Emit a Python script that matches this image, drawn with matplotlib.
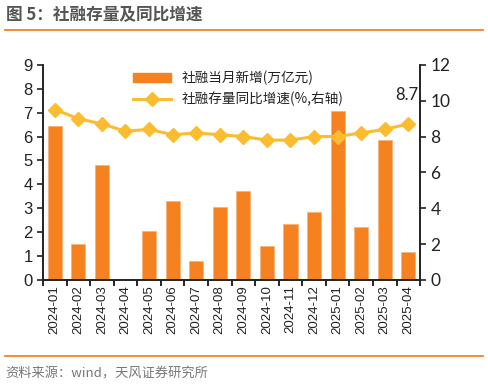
import numpy as np
import matplotlib.pyplot as plt
from matplotlib.lines import Line2D

plt.rcParams['font.family'] = ['Noto Sans CJK SC', 'DejaVu Sans']

months = ["2024-01", "2024-02", "2024-03", "2024-04", "2024-05", "2024-06",
          "2024-07", "2024-08", "2024-09", "2024-10", "2024-11", "2024-12",
          "2025-01", "2025-02", "2025-03", "2025-04"]
new_tsf = [6.45, 1.49, 4.81, 0.0, 2.04, 3.30, 0.78, 3.04, 3.74, 1.41, 2.32,
           2.86, 7.06, 2.23, 5.87, 1.16]
tsf_yoy = [9.5, 9.0, 8.7, 8.3, 8.4, 8.1, 8.2, 8.1, 8.0, 7.8, 7.8, 8.0,
           8.0, 8.2, 8.4, 8.7]

bar_c = "#F5821F"
line_c = "#FBBD2F"

fig = plt.figure(figsize=(4.88, 3.86), dpi=100)
ax = fig.add_axes([0.088, 0.275, 0.773, 0.557])
ax2 = ax.twinx()

x = np.arange(len(months))
ax.bar(x, new_tsf, width=0.6, color=bar_c, edgecolor="#F8B27A", linewidth=0.6,
       label="社融当月新增(万亿元)", zorder=2)
ax2.plot(x, tsf_yoy, color=line_c, lw=2.2, marker="D", ms=7, zorder=3)
ax2.annotate(f"{tsf_yoy[-1]:.1f}", (x[-1], tsf_yoy[-1]), xytext=(-1, 15),
             textcoords="offset points", ha="center", va="bottom",
             fontsize=12, family="Lato", color="#222222")

ax.set_xlim(-0.5, len(months) - 0.5)
ax.set_ylim(0, 9)
ax2.set_ylim(0, 12)
ax.set_yticks(range(0, 10))
ax2.set_yticks(range(0, 13, 2))

ax.set_xticks(x)
ax.set_xticklabels(months, rotation=90, fontsize=9.5, family="Liberation Sans",
                   color="#222222")
ax.set_xticks(np.arange(-0.5, len(months)), minor=True)
ax.tick_params(axis="x", which="major", length=0, pad=4)
ax.tick_params(axis="x", which="minor", length=4, width=1.2, direction="out")
for lab in ax.get_yticklabels():
    lab.set_family("Liberation Sans")
ax.tick_params(axis="y", labelsize=12, length=4, width=1.2, colors="#222222")
for lab in ax2.get_yticklabels():
    lab.set_family("Lato")
ax2.tick_params(axis="y", labelsize=12.5, length=4, width=1.2, colors="#222222")

for a in (ax, ax2):
    a.spines["top"].set_visible(False)
    for s in ("left", "right", "bottom"):
        a.spines[s].set_linewidth(1.2)
        a.spines[s].set_color("#222222")

handles = [plt.Rectangle((0, 0), 1, 1, color=bar_c),
           Line2D([], [], color=line_c, lw=2.2, marker="D", ms=7)]
labels = ["社融当月新增(万亿元)", "社融存量同比增速(%,右轴)"]
ax2.legend(handles, labels, loc="upper left", bbox_to_anchor=(0.205, 1.03),
           frameon=False, fontsize=9.8, handlelength=2.8, labelspacing=0.5,
           labelcolor="#222222")

fig.text(0.012, 0.962, "图 5：社融存量及同比增速", fontsize=12, weight="bold",
         color="#555555", va="center")
fig.add_artist(Line2D([0.01, 0.99], [0.921, 0.921], color="#F5821F", lw=1.3))
fig.add_artist(Line2D([0.01, 0.99], [0.078, 0.078], color="#F5821F", lw=1.3))
fig.text(0.012, 0.03, "资料来源：wind，天风证券研究所", fontsize=9.5,
         color="#777777", va="center")

plt.savefig("out.png", dpi=100)
